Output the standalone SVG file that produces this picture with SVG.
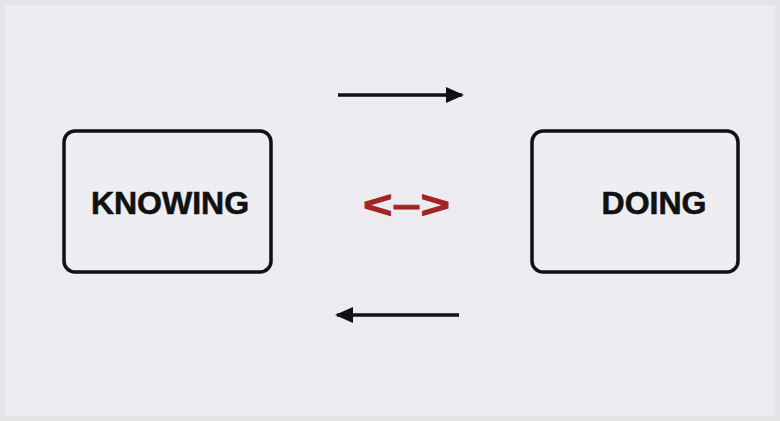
<svg xmlns="http://www.w3.org/2000/svg" width="780" height="421" viewBox="0 0 780 421">
<defs>
<style>
.box{fill:#ededf2;stroke:#111;stroke-width:3.5}
.lbl{font-family:"Liberation Sans",Arial,sans-serif;font-weight:bold;font-size:32px;fill:#111;stroke:#111;stroke-width:0.6}
.con{stroke:#111;stroke-width:3.5;fill:none}
</style>
<marker id="ah2" markerWidth="18" markerHeight="16" refX="16" refY="8" orient="auto" markerUnits="userSpaceOnUse" viewBox="0 0 18 16">
<path d="M0,0 L18,8 L0,16 Z" fill="#111"/>
</marker>
</defs>
<rect x="0" y="0" width="780" height="421" fill="#e3e4e6"/>
<rect x="5" y="5" width="770" height="411" fill="#ebebf0"/>
<g id="knowing">
<rect class="box" x="64" y="131" width="207" height="141" rx="11"/>
<text class="lbl" x="170" y="214" text-anchor="middle">KNOWING</text>
</g>
<g id="doing">
<rect class="box" x="532" y="131" width="206" height="141" rx="11"/>
<text class="lbl" x="654" y="214" text-anchor="middle">DOING</text>
</g>
<g id="connectors">
<line class="con" x1="338" y1="95" x2="462" y2="95" marker-end="url(#ah2)"/>
<line class="con" x1="459" y1="315" x2="337" y2="315" marker-end="url(#ah2)"/>
</g>
<text x="363" y="218" textLength="87" lengthAdjust="spacingAndGlyphs" font-family="Liberation Sans, Arial, sans-serif" font-weight="bold" font-size="38" fill="#a32424" stroke="#a32424" stroke-width="0.8">&lt;–&gt;</text>
</svg>
